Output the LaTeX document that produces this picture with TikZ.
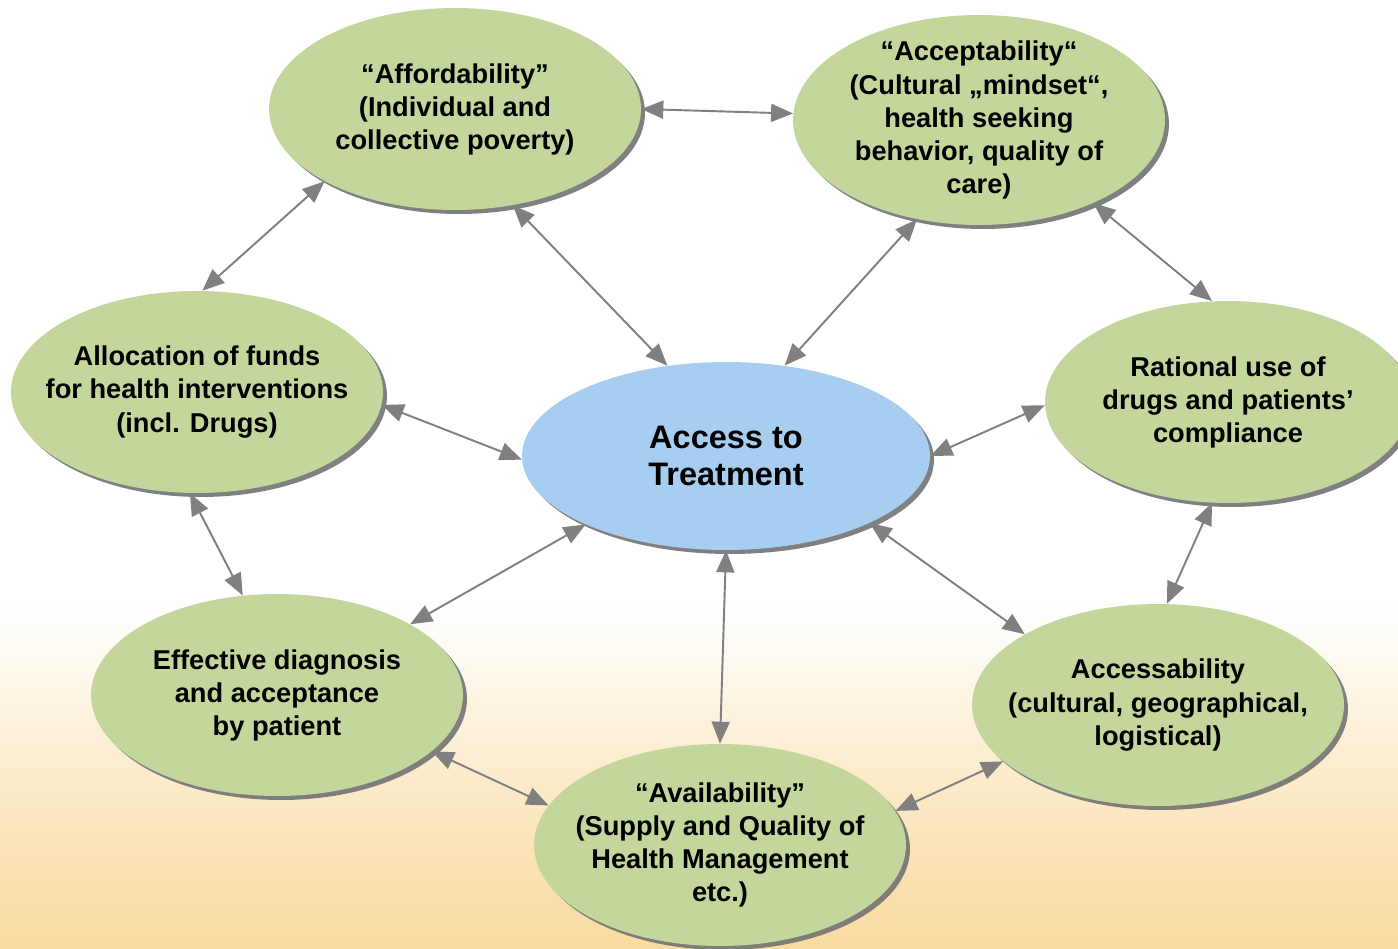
\documentclass[tikz,border=0pt]{standalone}
\usepackage{fontspec}
\setmainfont{Liberation Sans}
\usetikzlibrary{shapes, arrows.meta, shadows, fadings}
\tikzset{every picture/.style={/utils/exec={\bfseries}}}
\definecolor{TopicGreen}{HTML}{C3D69B}
\definecolor{CoreBlue}{HTML}{A7CDF0}
\definecolor{LinkGray}{HTML}{808080}
\definecolor{BgLight}{HTML}{FBE2B2}
\definecolor{BgOrange}{HTML}{F7CB78}
\tikzfading[name=warmrise, bottom color=transparent!25, middle color=transparent!90, top color=transparent!100]

\begin{document}
\begin{tikzpicture}[x=0.02cm, y=-0.02cm,
			every node/.style={ellipse, align=center, inner sep=-1cm, font=\fontsize{15.5}{18.8}\selectfont\bfseries},
			topic/.style={fill=TopicGreen, minimum width=7.44cm, minimum height=4.04cm,
				drop shadow={shadow xshift=0.08cm, shadow yshift=-0.08cm, fill=black!55, opacity=0.9}},
			core/.style={topic, fill=CoreBlue, minimum width=8.16cm, minimum height=3.76cm, font=\fontsize{18.5}{21.5}\selectfont\bfseries},
			link/.style={draw=LinkGray, line width=1.1pt, {Triangle[length=0.44cm,width=0.36cm]}-{Triangle[length=0.44cm,width=0.36cm]}}
		]
			% background
			\useasboundingbox (0,0) rectangle (1398,948);
			\begin{scope}
				\clip (0,0) rectangle (1398,948);
				\fill[white] (0,0) rectangle (1398,948);
				\shade[top color=white, bottom color=BgLight] (0,640) rectangle (1398,1140);
				\shade[left color=BgOrange, middle color=BgLight, right color=BgOrange, path fading=warmrise] (-700,600) rectangle (2098,1100);
				\fill[white] (0,0) rectangle (1398,600);
			\end{scope}

			% nodes
			\node (access) [core] at (726,456) {Access to\\Treatment};
			\node (afford) [topic] at (455,109) {“Affordability”\\(Individual and\\collective poverty)};
			\node (accept) [topic, minimum height=4.2cm] at (979,120) {“Acceptability“\\(Cultural „mindset“,\\health seeking\\behavior, quality of\\care)};
			\node (alloc) [topic] at (197,392) {Allocation of funds\\for health interventions\\(incl. Drugs)};
			\node (rational) [topic, minimum width=7.32cm] at (1228,402) {Rational use of\\drugs and patients’\\compliance};
			\node (diag) [topic] at (277,695) {Effective diagnosis\\and acceptance\\by patient};
			\node (reach) [topic] at (1158,705) {Accessability\\(cultural, geographical,\\logistical)};
			\node (avail) [topic] at (720,845) {“Availability”\\(Supply and Quality of\\Health Management\\etc.)};

			% connectors
			\draw[link] (afford.0) -- (accept.178);
			\draw[link] (afford.209) -- (alloc.87);
			\draw[link] (afford.301) -- (access.123);
			\draw[link] (accept.238) -- (access.57);
			\draw[link] (accept.324) -- (rational.99);
			\draw[link] (alloc.356) -- (access.181);
			\draw[link] (rational.181) -- (access.0);
			\draw[link] (alloc.266) -- (diag.109);
			\draw[link] (access.206) -- (diag.28);
			\draw[link] (access.270) -- (avail.90);
			\draw[link] (access.335) -- (reach.152);
			\draw[link] (rational.261) -- (reach.85);
			\draw[link] (diag.340) -- (avail.167);
			\draw[link] (reach.200) -- (avail.11);
		\end{tikzpicture}
\end{document}
